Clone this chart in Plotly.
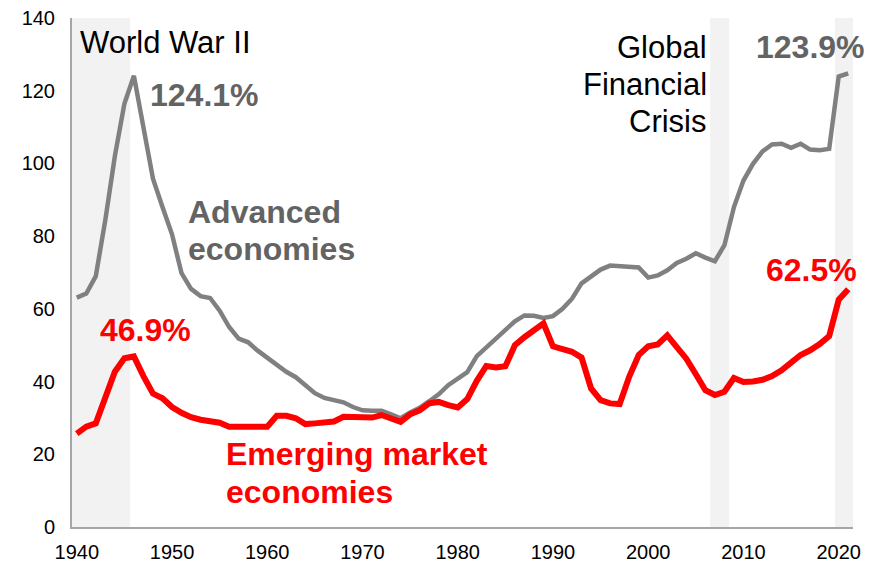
import plotly.graph_objects as go

years = list(range(1940, 2022))

advanced = [
    63.1, 64.2, 69.0, 84.5, 102.0, 116.4, 124.1, 110.0, 95.8, 88.0,
    80.5, 69.8, 65.5, 63.5, 63.0, 59.5, 55.0, 51.8, 50.8, 48.5,
    46.5, 44.6, 42.7, 41.2, 38.8, 36.8, 35.5, 34.8, 34.3, 33.0,
    32.1, 32.0, 32.0, 31.0, 29.9, 31.5, 32.8, 34.6, 36.5, 39.0,
    40.9, 42.6, 47.0, 49.5, 51.6, 54.1, 56.6, 58.2, 58.1, 57.5,
    58.0, 60.0, 62.8, 67.0, 68.9, 70.8, 71.9, 71.7, 71.6, 71.4,
    68.6, 69.2, 70.6, 72.6, 73.8, 75.3, 74.1, 73.1, 77.5, 88.0,
    95.3, 99.9, 103.3, 105.2, 105.4, 104.3, 105.4, 103.8, 103.6, 104.0,
    123.9, 124.8,
]

emerging = [
    25.7, 27.6, 28.5, 35.5, 42.7, 46.4, 46.9, 41.5, 36.7, 35.4,
    33.0, 31.4, 30.2, 29.5, 29.2, 28.7, 27.6, 27.6, 27.4, 27.5,
    27.6, 30.6, 30.6, 29.9, 28.3, 28.5, 28.7, 29.0, 30.3, 30.3,
    30.3, 30.1, 30.8, 29.9, 28.9, 31.0, 32.1, 34.0, 34.4, 33.5,
    32.9, 35.2, 40.2, 44.3, 43.9, 44.2, 50.0, 52.2, 54.0, 56.0,
    49.7, 49.1, 48.2, 46.6, 38.1, 34.9, 34.0, 33.8, 41.3, 47.3,
    49.7, 50.2, 52.7, 49.5, 46.3, 42.0, 37.6, 36.3, 37.2, 41.0,
    39.9, 40.0, 40.5, 41.5, 43.1, 45.2, 47.3, 48.6, 50.3, 52.5,
    62.5, 65.4,
]

# shaded crisis periods (start, end)
crises = [(1939.5, 1945.6), (2006.5, 2008.5), (2019.6, 2021.5)]

font = "Liberation Sans, Arial, sans-serif"
gray_line = "#808080"
gray_text = "#636363"
red = "#ff0000"

fig = go.Figure()

for x0, x1 in crises:
    fig.add_shape(type="rect", xref="x", yref="y", x0=x0, x1=x1, y0=0, y1=140,
                  fillcolor="#f2f2f2", line_width=0, layer="below")

fig.add_trace(go.Scatter(x=years, y=advanced, mode="lines",
                         line=dict(color=gray_line, width=4.5), hoverinfo="skip"))
fig.add_trace(go.Scatter(x=years, y=emerging, mode="lines",
                         line=dict(color=red, width=6), hoverinfo="skip"))


def label(text, x, y, color, bold=False, xanchor="left", size=31):
    if bold:
        text = "<b>" + text + "</b>"
        size = 32
    fig.add_annotation(x=x, y=y, text=text, showarrow=False, xanchor=xanchor,
                       yanchor="middle",
                       font=dict(family=font, size=size, color=color))


# one annotation per line, so the line spacing stays tight
label("World War II", 1940.1, 133.4, "#000000")
label("124.1%", 1947.5, 118.8, gray_text, bold=True)
label("Advanced", 1951.5, 86.6, gray_text, bold=True)
label("economies", 1951.5, 76.4, gray_text, bold=True)
label("46.9%", 1942.2, 54.2, red, bold=True)
label("Emerging market", 1955.5, 20.1, red, bold=True)
label("economies", 1955.5, 9.7, red, bold=True)
label("Global", 2006.4, 132.0, "#000000", xanchor="right")
label("Financial", 2006.4, 121.8, "#000000", xanchor="right")
label("Crisis", 2006.4, 111.4, "#000000", xanchor="right")
label("123.9%", 2011.1, 132, gray_text, bold=True)
label("62.5%", 2012.2, 70.7, red, bold=True)

# page body adds an 8px margin, so the figure is 16px smaller than the window
fig.update_layout(
    width=864, height=555,
    margin=dict(l=64, r=19, t=10, b=36),
    paper_bgcolor="white", plot_bgcolor="white",
    showlegend=False,
    font=dict(family=font, size=20, color="#000000"),
)
fig.update_xaxes(range=[1939.5, 2021.5], tickvals=list(range(1940, 2021, 10)),
                 showgrid=False, zeroline=False, showline=True,
                 linecolor="#a6a6a6", linewidth=2, ticks="",
                 tickfont=dict(size=20), ticklabelstandoff=6,
                 ticklabeloverflow="allow", automargin=False)
fig.update_yaxes(range=[0, 140], dtick=20, showgrid=False, zeroline=False,
                 showline=True, linecolor="#a6a6a6", linewidth=2, ticks="",
                 tickfont=dict(size=20), ticklabelstandoff=11,
                 ticklabeloverflow="allow", automargin=False)

fig.write_html("out.html")
